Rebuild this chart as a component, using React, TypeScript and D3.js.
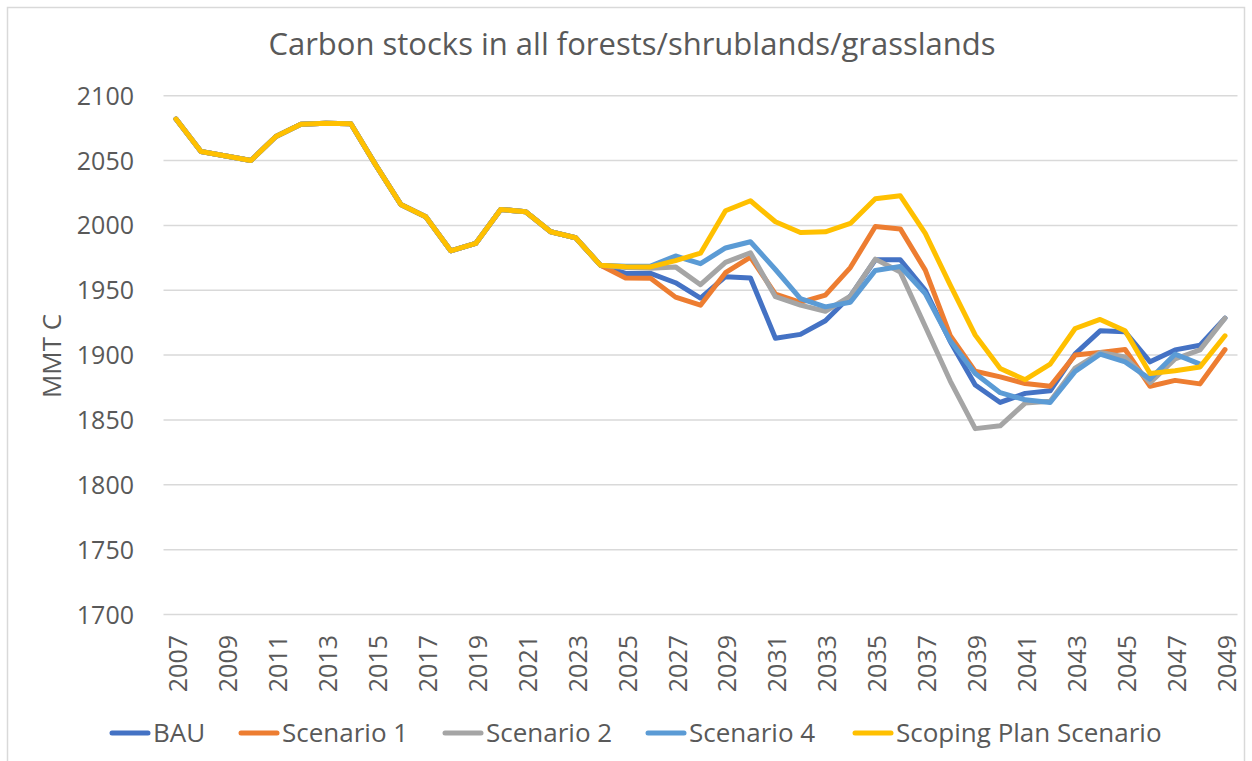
import React from 'react';
import * as d3 from 'd3';

const years = [
  2007, 2008, 2009, 2010, 2011, 2012, 2013, 2014, 2015, 2016, 2017, 2018, 2019, 2020, 2021,
  2022, 2023, 2024, 2025, 2026, 2027, 2028, 2029, 2030, 2031, 2032, 2033, 2034, 2035, 2036,
  2037, 2038, 2039, 2040, 2041, 2042, 2043, 2044, 2045, 2046, 2047, 2048, 2049,
];
const tickYears = [
  2007, 2009, 2011, 2013, 2015, 2017, 2019, 2021, 2023, 2025, 2027, 2029, 2031, 2033, 2035,
  2037, 2039, 2041, 2043, 2045, 2047, 2049,
];
const yTicks = [1700, 1750, 1800, 1850, 1900, 1950, 2000, 2050, 2100];

// 2007-2024: shared history
const history = [
  2082, 2057, 2053.5, 2050, 2068.5, 2078, 2078.7, 2078.4, 2046.5, 2016.2, 2006.6, 1980.4,
  1986.1, 2012.3, 2010.5, 1995.1, 1990.5, 1969.2,
];
// 2025-2049
const bauFuture = [
  1963, 1963, 1955.8, 1944, 1960.5, 1959.5, 1913, 1916, 1926.5, 1945.5, 1973.5, 1973.5, 1950,
  1910.5, 1877, 1863.5, 1870.5, 1872.5, 1901, 1918.7, 1918, 1894.8, 1904, 1907.6, 1928.5,
];
const s1Future = [
  1959.5, 1959.3, 1944.7, 1938.5, 1963.5, 1975.5, 1947, 1940.7, 1946.2, 1967.5, 1999.2, 1997.3,
  1965.5, 1915, 1887.5, 1883.2, 1878.1, 1876, 1900, 1902, 1904.3, 1876, 1880.5, 1877.8, 1904.3,
];
const s2Future = [
  1967.5, 1967, 1968, 1954.3, 1971.5, 1978.9, 1945, 1938.5, 1933.8, 1945.5, 1974, 1964, 1922,
  1880, 1843.3, 1845.5, 1863, 1864.5, 1890, 1902, 1898.6, 1878.8, 1897, 1904, 1928.5,
];
const s4Future = [
  1968.6, 1968.6, 1976.4, 1970.5, 1982.6, 1987.4, 1966, 1943.6, 1937.2, 1940.8, 1965.3, 1968.3,
  1947.5, 1911, 1885.8, 1871, 1865.5, 1863.5, 1887.5, 1900.7, 1894.8, 1881.5, 1900.7, 1893, null,
];
const spFuture = [
  1968.1, 1968, 1972.8, 1978.6, 2011.3, 2019, 2002.8, 1994.5, 1995.1, 2001.5, 2020.5, 2022.8,
  1993.8, 1954, 1915.4, 1889.6, 1881, 1893, 1920.5, 1927.5, 1918.7, 1885.8, 1888, 1890.9, 1914.9,
];

const seriesNames = ['BAU', 'Scenario 1', 'Scenario 2', 'Scenario 4', 'Scoping Plan Scenario'];
const seriesColors = ['#4472C4', '#ED7D31', '#A5A5A5', '#5B9BD5', '#FFC000'];
const seriesValues: (number | null)[][] = [
  [...history, ...bauFuture],
  [...history, ...s1Future],
  [...history, ...s2Future],
  [...history, ...s4Future],
  [...history, ...spFuture],
];

const W = 1252;
const H = 761;
const FONT = '"Open Sans", "Noto Sans", sans-serif';
const TEXT = '#595959';

export default function App() {
  const plotLeft = 163.5;
  const plotRight = 1237.5;
  const x = d3
    .scalePoint<number>()
    .domain(years)
    .range([plotLeft, plotRight])
    .padding(0.5);
  const y = d3.scaleLinear().domain([1700, 2100]).range([614.5, 95.7]);

  const line = d3
    .line<number | null>()
    .defined((d) => d != null)
    .x((_, i) => x(years[i]) as number)
    .y((d) => y(d as number));

  const legendX = [110, 239, 443, 646, 853];

  return (
    <svg
      width={W}
      height={H}
      style={{ position: 'absolute', left: 0, top: 0, display: 'block', background: '#fff' }}
      fontFamily={FONT}
    >
      <rect x={7.5} y={7.5} width={1237} height={770} fill="#fff" stroke="#D9D9D9" strokeWidth={1.5} />
      <text x={632} y={55} textAnchor="middle" fontSize={31} fill={TEXT}>
        Carbon stocks in all forests/shrublands/grasslands
      </text>

      {yTicks.map((t) => (
        <g key={t}>
          <line x1={plotLeft} x2={plotRight} y1={y(t)} y2={y(t)} stroke="#D9D9D9" strokeWidth={1.5} />
          <text x={134} y={y(t)} dy="0.36em" textAnchor="end" fontSize={25} fill={TEXT}>
            {t}
          </text>
        </g>
      ))}

      <text
        transform={`translate(61, 356) rotate(-90)`}
        textAnchor="middle"
        fontSize={26}
        fill={TEXT}
      >
        MMT C
      </text>

      {tickYears.map((yr) => (
        <text
          key={yr}
          transform={`translate(${(x(yr) as number) + 2}, 635) rotate(-90)`}
          textAnchor="end"
          dy="0.36em"
          fontSize={25}
          fill={TEXT}
        >
          {yr}
        </text>
      ))}

      {seriesValues.map((vals, i) => (
        <path
          key={seriesNames[i]}
          d={line(vals) || ''}
          fill="none"
          stroke={seriesColors[i]}
          strokeWidth={5}
          strokeLinejoin="round"
          strokeLinecap="round"
        />
      ))}

      {seriesNames.map((name, i) => (
        <g key={name} transform={`translate(${legendX[i]}, 733)`}>
          <line x1={2} x2={38} y1={0} y2={0} stroke={seriesColors[i]} strokeWidth={5} strokeLinecap="round" />
          <text x={43} y={9} fontSize={26} fill={TEXT}>
            {name}
          </text>
        </g>
      ))}
    </svg>
  );
}
